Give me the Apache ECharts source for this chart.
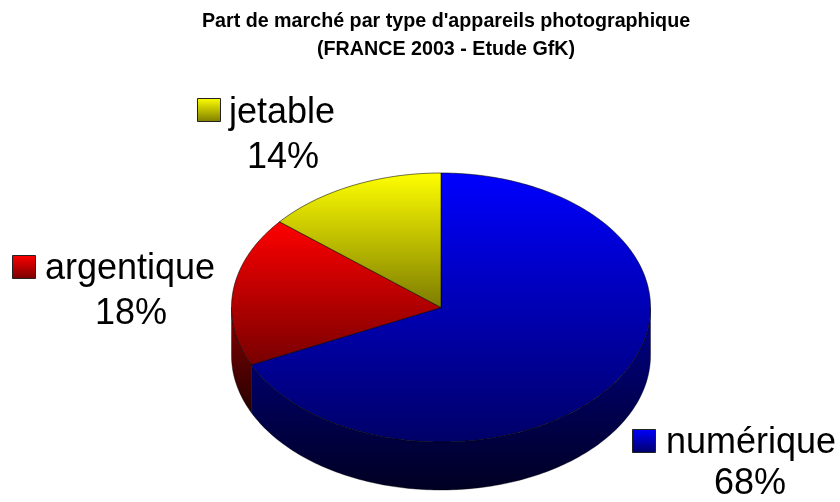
<!DOCTYPE html>
<html>
<head>
<meta charset="utf-8">
<style>html,body{margin:0;padding:0;background:#fff}#c{width:840px;height:502px}</style>
<script src="https://cdn.jsdelivr.net/npm/echarts@6/dist/echarts.min.js"></script>
</head>
<body>
<div id="c"></div>
<script>
const titleLines = ["Part de marché par type d'appareils photographique", "(FRANCE 2003 - Etude GfK)"];
const categories = ["numérique", "argentique", "jetable"];
const shares = [68, 18, 14];

// Styles and layout, kept apart from the data.
const topColors = [["#0000ff", "#000068"], ["#ff0000", "#780000"], ["#ffff00", "#7c7c00"]];
const sideColors = [["#00008c", "#000022"], ["#8c0000", "#240000"], ["#8c8c00", "#242400"]];
const pie = { cx: 441, cy: 307.5, rx: 209.5, ry: 134.5, depth: 48 };
const labelLayout = [
  { keyX: 632, keyY: 429, textX: 666, nameY: 443, pctX: 750, pctY: 484 },
  { keyX: 12, keyY: 255, textX: 45, nameY: 269, pctX: 131, pctY: 314 },
  { keyX: 197, keyY: 98, textX: 229, nameY: 113, pctX: 283, pctY: 158 }
];
const LABEL_FONT = '"Liberation Sans", Arial, sans-serif';
const total = shares.reduce((a, b) => a + b, 0);

function grad(c) {
  return new echarts.graphic.LinearGradient(0, 0, 0, 1, [
    { offset: 0, color: c[0] }, { offset: 1, color: c[1] }
  ]);
}
function pt(deg, dy) {
  const r = deg * Math.PI / 180;
  return [pie.cx + pie.rx * Math.sin(r), pie.cy - pie.ry * Math.cos(r) + (dy || 0)];
}
function arc(a, b, dy) {
  const out = [];
  const n = Math.max(2, Math.ceil(Math.abs(b - a)));
  for (let i = 0; i <= n; i++) out.push(pt(a + (b - a) * i / n, dy));
  return out;
}
function renderItem(params, api) {
  const i = api.value(1);
  const before = shares.slice(0, i).reduce((a, b) => a + b, 0);
  const a = before / total * 360;
  const b = (before + api.value(0)) / total * 360;
  const children = [];
  // Visible rim: the part of the slice on the front half of the ellipse.
  const s = Math.max(a, 90), e = Math.min(b, 270);
  if (e > s) {
    children.push({
      type: 'polygon', z2: 1,
      shape: { points: arc(s, e, 0).concat(arc(e, s, pie.depth)) },
      style: { fill: grad(sideColors[i]), stroke: 'rgba(0,0,0,0.55)', lineWidth: 0.7 }
    });
  }
  // Top face.
  children.push({
    type: 'polygon', z2: 2,
    shape: { points: [[pie.cx, pie.cy]].concat(arc(a, b, 0)) },
    style: { fill: grad(topColors[i]), stroke: 'rgba(0,0,0,0.7)', lineWidth: 0.8 }
  });
  // Label with its colour key.
  const L = labelLayout[i];
  children.push({
    type: 'rect', z2: 3,
    shape: { x: L.keyX + 0.5, y: L.keyY + 0.5, width: 23, height: 23 },
    style: { fill: grad(topColors[i]), stroke: '#222', lineWidth: 1 }
  });
  children.push({
    type: 'text', z2: 3,
    style: { x: L.textX, y: L.nameY, text: categories[i], fill: '#000',
      font: '36px ' + LABEL_FONT, textAlign: 'left', textVerticalAlign: 'middle' }
  });
  children.push({
    type: 'text', z2: 3,
    style: { x: L.pctX, y: L.pctY, text: api.value(0) + '%', fill: '#000',
      font: '36px ' + LABEL_FONT, textAlign: 'center', textVerticalAlign: 'middle' }
  });
  return { type: 'group', children };
}

const chart = echarts.init(document.getElementById('c'), null, { renderer: 'canvas' });
chart.setOption({
  animation: false,
  backgroundColor: '#fff',
  title: {
    text: titleLines.join('\n'),
    left: 441, top: 3, textAlign: 'center',
    textStyle: { fontFamily: LABEL_FONT, fontSize: 19.7, fontWeight: 'bold', color: '#000', lineHeight: 28 }
  },
  series: [{
    type: 'custom',
    coordinateSystem: 'none',
    renderItem,
    data: shares.map((v, i) => [v, i]),
    silent: true
  }]
});
</script>
</body>
</html>
